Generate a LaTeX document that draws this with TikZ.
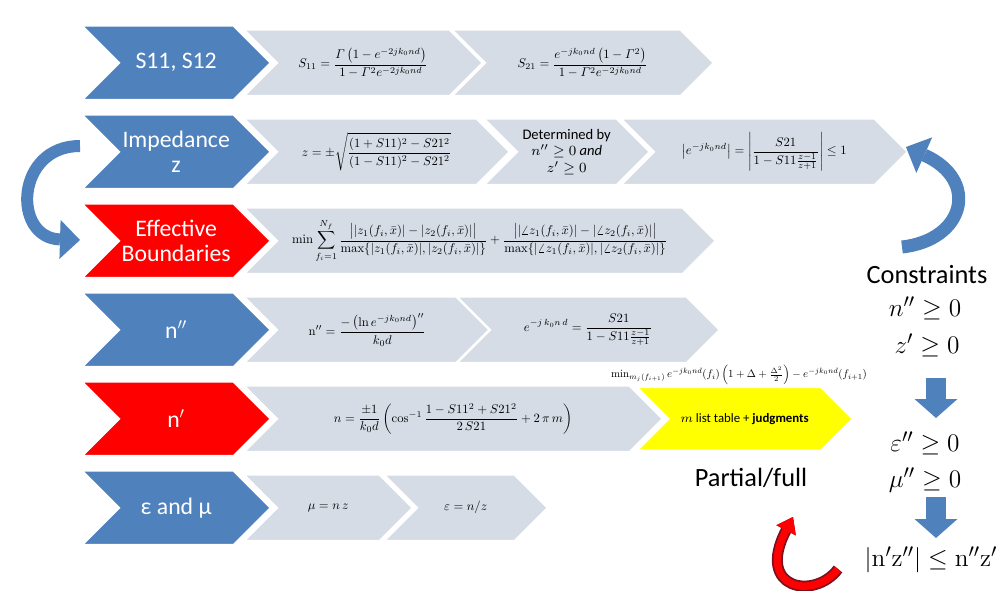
\documentclass[tikz,border=0pt]{standalone}
\usepackage{amsmath}
\usepackage{graphicx}
\usepackage[no-math]{fontspec}
\setmainfont{Carlito}
\usetikzlibrary{shapes.symbols,arrows.meta}

\definecolor{stageblue}{HTML}{4F81BD}
\definecolor{stagered}{HTML}{FF0000}
\definecolor{stagegrey}{HTML}{D5DCE6}
\definecolor{stageyellow}{HTML}{FFFF00}
\definecolor{loopdark}{HTML}{7A1020}

% formulas inside the grey steps
\newcommand{\stepeq}[1]{\scalebox{0.72}{$\displaystyle #1$}}

\begin{document}
\begin{tikzpicture}[x=0.02cm, y=-0.02cm,
		chev/.style={signal, signal to=east, signal from=west, signal pointer angle=90,
			draw=white, line width=1.5pt, inner sep=0pt, anchor=north west},
		chevhead/.style={chev, minimum width=3.8cm, minimum height=1.5cm, fill=stageblue},
		chevbody/.style={chev, minimum height=1.34cm, fill=stagegrey},
		chevtxt/.style={text=white, font=\fontsize{13.5}{14.5}\selectfont, align=center},
		eqtxt/.style={font=\fontsize{10}{12}\selectfont, align=center},
		smalltxt/.style={font=\fontsize{8.3}{9.3}\selectfont, align=center},
		note/.style={font=\fontsize{15}{17}\selectfont},
		cond/.style={font=\fontsize{15}{18}\selectfont},
		downarr/.style={draw=stageblue, line width=0.4cm, -{Triangle[length=0.38cm, width=0.86cm, line width=0pt]}},
		loopblue/.style={draw=stageblue, -{Triangle[length=0.4cm, width=0.78cm, line width=0pt]}},
		loopred/.style={draw=stagered, line width=0.15cm, -{Triangle[length=0.3cm, width=0.44cm, line width=0pt]},
			preaction={draw=loopdark, line width=0.22cm}}
		]
		
		\useasboundingbox (0,0) rectangle (1005,591);
		\fill[white] (0,0) rectangle (1005,591);
		
		% S11, S12
		\node[chevbody, minimum width=4.8cm, label={[eqtxt]center:{\stepeq{S_{11}=\frac{\varGamma\left(1-e^{-2jk_0nd}\right)}{1-\varGamma^2e^{-2jk_0nd}}}}}] (seqa) at (240,28) {};
		\node[chevbody, minimum width=5.26cm, label={[eqtxt]center:{\stepeq{S_{21}=\frac{e^{-jk_0nd}\left(1-\varGamma^2\right)}{1-\varGamma^2e^{-2jk_0nd}}}}}] (seqb) at (448,28) {};
		
		% Impedance
		\node[chevbody, minimum width=5.34cm, label={[eqtxt]center:{\stepeq{z=\pm\sqrt{\frac{(1+S11)^2-S21^2}{(1-S11)^2-S21^2}}}}}] (zeqa) at (240,117) {};
		\node[chevbody, minimum width=3.34cm, label={[smalltxt]center:{Determined by\\$n''\geq 0$ \textit{and}\\$z'\geq 0$}}] (zeqb) at (480,117) {};
		\node[chevbody, minimum width=5.76cm, label={[eqtxt]center:{\stepeq{\left|e^{-jk_0nd}\right|=\left|\frac{S21}{1-S11\frac{z-1}{z+1}}\right|\leq 1}}}] (zeqc) at (617,117) {};
		
		% Effective boundaries
		\node[chevbody, minimum width=9.46cm, label={[eqtxt]center:{\stepeq{\min\sum_{f_i=1}^{N_f}\frac{\bigl||z_1(f_i,\bar{x})|-|z_2(f_i,\bar{x})|\bigr|}{\max\{|z_1(f_i,\bar{x})|,|z_2(f_i,\bar{x})|\}}+\frac{\bigl||\angle z_1(f_i,\bar{x})|-|\angle z_2(f_i,\bar{x})|\bigr|}{\max\{|\angle z_1(f_i,\bar{x})|,|\angle z_2(f_i,\bar{x})|\}}}}}] (beq) at (240,206) {};
		
		% n''
		\node[chevbody, minimum width=4.96cm, label={[eqtxt]center:{\stepeq{\mathrm{n}''=\frac{-\left(\ln e^{-jk_0nd}\right)''}{k_0d}}}}] (nieqa) at (240,295) {};
		\node[chevbody, minimum width=5.28cm, label={[eqtxt]center:{\stepeq{e^{-j\,k_0n\,d}=\frac{S21}{1-S11\frac{z-1}{z+1}}}}}] (nieqb) at (453,295) {};
		
		% n'
		\node[chevbody, minimum width=8.4cm, label={[eqtxt]center:{\stepeq{n=\frac{\pm1}{k_0d}\left(\cos^{-1}\frac{1-S11^2+S21^2}{2\,S21}+2\,\pi\,m\right)}}}] (nreq) at (240,384) {};
		\node[chevbody, fill=stageyellow, minimum width=4.34cm, minimum height=1.28cm, label={[eqtxt, font=\fontsize{7.3}{8}\selectfont]center:{$m$ list table + \textbf{judgments}}}] (mlist) at (633,385.5) {};
		\node (mmin) at (739,375) {\scalebox{0.62}{$\min_{m_j(f_{i+1})}e^{-jk_0nd}(f_i)\left(1+\Delta+\frac{\Delta^2}{2}\right)-e^{-jk_0nd}(f_{i+1})$}};
		\node[note] (part) at (751,478) {Partial/full};
		
		% epsilon and mu
		\node[chevbody, minimum width=3.4cm, label={[eqtxt]center:{\stepeq{\mu=n\,z}}}] (emeqa) at (240,473) {};
		\node[chevbody, minimum width=3.3cm, label={[eqtxt]center:{\stepeq{\varepsilon=n/z}}}] (emeqb) at (380,473) {};
		
		% quantities
		\node[chevhead, label={[chevtxt]center:{S11, S12}}] (spar) at (78,24) {};
		\node[chevhead, label={[chevtxt]center:{Impedance\\z}}] (imp) at (78,113) {};
		\node[chevhead, fill=stagered, label={[chevtxt]center:{Effective\\Boundaries}}] (bound) at (78,202) {};
		\node[chevhead, label={[chevtxt]center:{n$''$}}] (nim) at (78,291) {};
		\node[chevhead, fill=stagered, label={[chevtxt]center:{n$'$}}] (nre) at (78,380) {};
		\node[chevhead, label={[chevtxt]center:{ε and μ}}] (epsmu) at (78,469) {};
		
		% constraints
		\node[note] (cons) at (927,275) {Constraints};
		\node[cond] (cn) at (925,308) {$n''\geq 0$};
		\node[cond] (cz) at (927,345) {$z'\geq 0$};
		\node[cond] (ce) at (925,443) {$\varepsilon''\geq 0$};
		\node[cond] (cm) at (925,480) {$\mu''\geq 0$};
		\node[cond] (cnz) at (931,560) {$|\mathrm{n}'\mathrm{z}''|\leq\mathrm{n}''\mathrm{z}'$};
		
		\coordinate (da) at (936,378);
		\coordinate (db) at (936,418);
		\coordinate (dc) at (936,497);
		\coordinate (dd) at (936,538);
		\draw[downarr] (da) -- (db);
		\draw[downarr] (dc) -- (dd);
		
		% loops
		\coordinate (lpa) at (80,146);
		\coordinate (lpb) at (80,240);
		\draw[loopblue, line width=0.24cm] (lpa) .. controls (15,146) and (12,238) .. (lpb);
		\coordinate (rpa) at (902,247);
		\coordinate (rpb) at (906,147);
		\draw[loopblue, line width=0.26cm] (rpa) .. controls (965,240) and (980,180) .. (rpb);
		\coordinate (rda) at (838,569);
		\coordinate (rdb) at (793,517);
		\draw[loopred] (rda) .. controls (815,600) and (755,590) .. (rdb);
		
	\end{tikzpicture}
\end{document}
